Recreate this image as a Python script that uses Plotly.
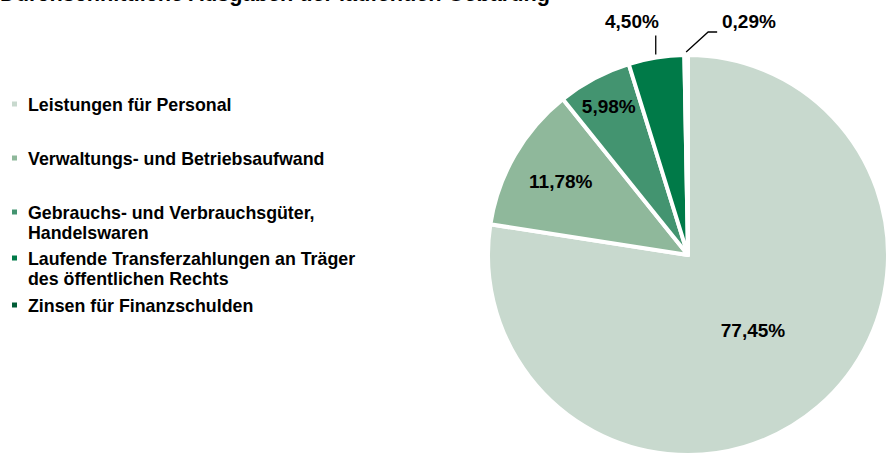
import plotly.graph_objects as go
import math

# ---- data ----
categories = [
    "Leistungen für Personal",
    "Verwaltungs- und Betriebsaufwand",
    "Gebrauchs- und Verbrauchsgüter,\nHandelswaren",
    "Laufende Transferzahlungen an Träger\ndes öffentlichen Rechts",
    "Zinsen für Finanzschulden",
]
shares = [77.45, 11.78, 5.98, 4.50, 0.29]
colors = ["#C8D9CE", "#8FB89B", "#439470", "#007A48", "#005C36"]
title_text = "Durchschnittliche Ausgaben der laufenden Gebarung"

# ---- geometry (pixels) ----
W, H = 888, 459
CX, CY, R = 688, 255, 200
def px(x):
    return x / W
def py(y):
    return (H - y) / H

LBL = "Liberation Sans Narrow, Arial Narrow, Liberation Sans, Arial, sans-serif"
SANS = "Liberation Sans, Arial, sans-serif"
LBL_SIZE = 19

label_text = [f"{v:.2f}".replace(".", ",") + "%" for v in shares]
inside = [True, True, True, False, False]

fig = go.Figure(go.Pie(
    labels=[c.replace("\n", " ") for c in categories],
    values=shares,
    sort=False,
    direction="clockwise",
    rotation=0,
    marker=dict(colors=colors, line=dict(color="white", width=4)),
    text=[t if ins else "" for t, ins in zip(label_text, inside)],
    texttemplate="<b>%{text}</b>",
    textposition=["inside" if ins else "none" for ins in inside],
    insidetextorientation="horizontal",
    textfont=dict(family=LBL, size=LBL_SIZE, color="#000000"),
    domain=dict(x=[px(CX - R), px(CX + R)], y=[py(CY + R), py(CY - R)]),
    showlegend=False,
    hoverinfo="label+percent",
))

annotations = []
shapes = []

# outside labels with leader lines (angles derived from data)
total = sum(shares)
cum = 0.0
mids = []
for v in shares:
    mids.append((cum + v / 2) / total * 2 * math.pi)
    cum += v

lineclr = "#000000"
# 4,50 %
th = mids[3]
x0 = CX + (R + 3) * math.sin(th)
y0 = CY - (R + 3) * math.cos(th)
shapes.append(dict(type="line", xref="paper", yref="paper",
                   x0=px(x0), y0=py(y0), x1=px(x0), y1=py(y0 - 19),
                   line=dict(color=lineclr, width=1.3)))
annotations.append(dict(text=f"<b>{label_text[3]}</b>", xref="paper", yref="paper",
                        x=px(x0 + 5), y=py(22), xanchor="right", yanchor="middle",
                        showarrow=False, font=dict(family=LBL, size=LBL_SIZE, color="#000")))
# 0,29 %
th = mids[4]
x0 = CX + (R + 3) * math.sin(th)
y0 = CY - (R + 3) * math.cos(th)
shapes.append(dict(type="path", xref="paper", yref="paper",
                   path=f"M {px(x0)} {py(y0)} L {px(x0 + 22)} {py(y0 - 20)} L {px(x0 + 31)} {py(y0 - 20)}",
                   line=dict(color=lineclr, width=1.3)))
annotations.append(dict(text=f"<b>{label_text[4]}</b>", xref="paper", yref="paper",
                        x=px(x0 + 34), y=py(22), xanchor="left", yanchor="middle",
                        showarrow=False, font=dict(family=LBL, size=LBL_SIZE, color="#000")))

# custom legend
legend_y = [105, 159, 213, 259, 306]
line_h = 20
for cat, clr, ly in zip(categories, colors, legend_y):
    shapes.append(dict(type="rect", xref="paper", yref="paper",
                       x0=px(12), x1=px(17), y0=py(ly - 3.5), y1=py(ly + 1.5),
                       fillcolor=clr, line=dict(width=0)))
    for k, ln in enumerate(cat.split("\n")):
        annotations.append(dict(text=f"<b>{ln}</b>", xref="paper", yref="paper",
                                x=px(26), y=py(ly + k * line_h), xanchor="left", yanchor="middle",
                                showarrow=False, font=dict(family=SANS, size=17.8, color="#000")))

# title (cut off at top like the reference)
annotations.append(dict(text=f"<b>{title_text}</b>", xref="paper", yref="paper",
                        x=px(-2), y=py(-6.5), xanchor="left", yanchor="middle",
                        showarrow=False, font=dict(family=SANS, size=21.7, color="#000")))

fig.update_layout(
    width=W, height=H,
    margin=dict(l=0, r=0, t=0, b=0),
    paper_bgcolor="white", plot_bgcolor="white",
    annotations=annotations, shapes=shapes,
    uniformtext=dict(minsize=LBL_SIZE, mode="show"),
    showlegend=False,
)

fig.write_html(
    "out.html",
    config={"displayModeBar": False},
    post_script="document.body.style.margin='0';document.body.style.overflow='hidden';",
)
